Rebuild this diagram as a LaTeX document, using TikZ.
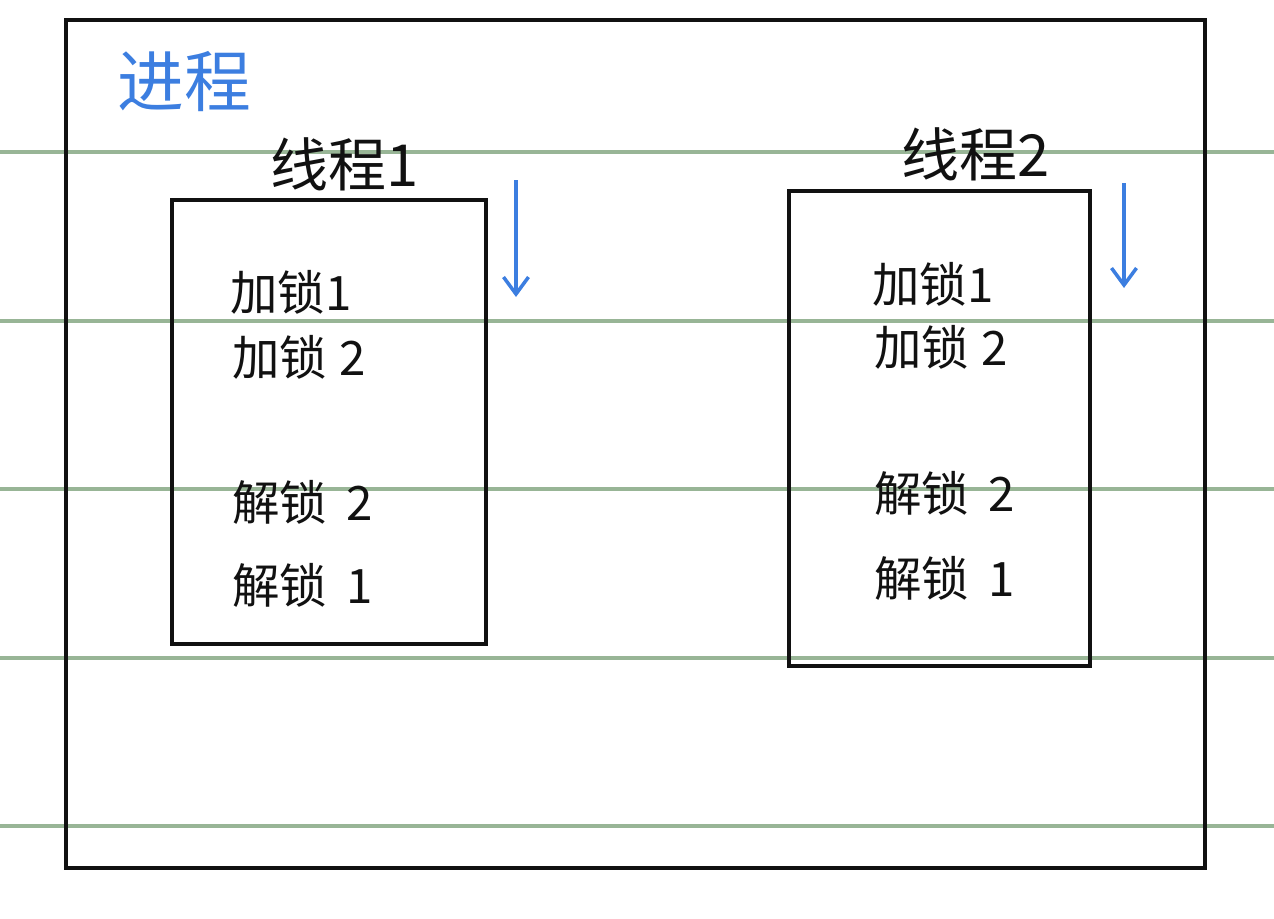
\documentclass[tikz,border=0pt]{standalone}
\usepackage{fontspec}
\newfontfamily\cjk{Noto Sans CJK SC}
\usetikzlibrary{arrows.meta,positioning}
\definecolor{ink}{HTML}{111111}
\definecolor{pen}{HTML}{3C7EE0}
\definecolor{ruleg}{HTML}{98B596}
\tikzset{
  frame/.style={draw=ink,line width=1.9pt,fill=none,inner sep=0pt},
  tbox/.style={frame},
  head/.style={font=\cjk\fontsize{33}{35}\selectfont,text=ink,inner sep=0pt},
  lck/.style={font=\cjk\fontsize{27}{29}\selectfont,text=ink,anchor=west,inner sep=0pt},
  ttl/.style={font=\cjk\fontsize{38}{40}\selectfont,text=pen,inner sep=0pt},
  down/.style={-{Straight Barb[length=3.4mm,width=5mm]},line width=2pt,color=pen},
  rl/.style={line width=1.8pt,color=ruleg}
}
\begin{document}
\begin{tikzpicture}[x=0.02cm,y=-0.02cm]
  \useasboundingbox (0,0) rectangle (1274,919);
  % ruled paper lines
  \foreach \y in {152,321,489,658,826}{\draw[rl] (0,\y) -- (1274,\y);}
  % process frame
  \node[frame,minimum width=22.78cm,minimum height=16.96cm] (proc) at (635.5,444) {};
  \node[ttl] (ptl) at (184,82) {进程};
  % thread 1
  \node[tbox,minimum width=6.28cm,minimum height=8.88cm] (t1) at (329,422) {};
  \node[head] (h1) at (345,164) {线程1};
  \node[lck] (a11) at (230,292) {加锁1};
  \node[lck] (a12) at (232,357) {加锁\hspace{0.25em}2};
  \node[lck] (r12) at (232,502) {解锁\hspace{0.4em}2};
  \node[lck] (r11) at (232,585) {解锁\hspace{0.4em}1};
  \coordinate (s1) at (516,180);
  \coordinate (e1) at (516,297);
  \draw[down] (s1) -- (e1);
  % thread 2
  \node[tbox,minimum width=6.02cm,minimum height=9.5cm] (t2) at (939.5,428.5) {};
  \node[head] (h2) at (976,154) {线程2};
  \node[lck] (a21) at (872,284) {加锁1};
  \node[lck] (a22) at (874,347) {加锁\hspace{0.25em}2};
  \node[lck] (r22) at (874,493) {解锁\hspace{0.4em}2};
  \node[lck] (r21) at (874,578) {解锁\hspace{0.4em}1};
  \coordinate (s2) at (1124,183);
  \coordinate (e2) at (1124,288);
  \draw[down] (s2) -- (e2);
\end{tikzpicture}
\end{document}
